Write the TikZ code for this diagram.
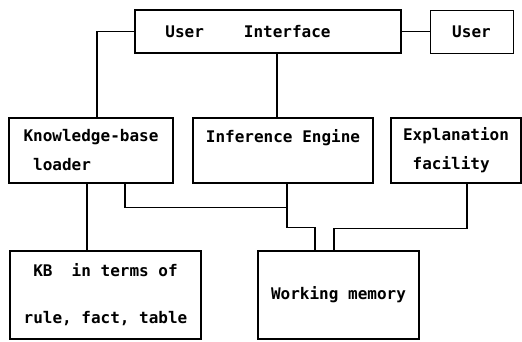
\documentclass[tikz,border=0pt]{standalone}
\usepackage{fontspec}
\setmonofont{DejaVu Sans Mono}
\usepackage{tikz}
\usetikzlibrary{positioning}

\begin{document}
\begin{tikzpicture}[x=1pt,y=-1pt,
		box/.style={draw,line width=1.6pt,align=center,inner sep=0pt,
			font=\ttfamily\bfseries\fontsize{16}{29}\selectfont},
		link/.style={line width=1.2pt}]
		\useasboundingbox (0,0) rectangle (522,342);
		
		% TOP: interface and user
		\node[box,minimum width=266,minimum height=43] (UI) at (268,31.5)
			{User\hspace{2.5em}Interface\hspace*{2.5em}};
		\node[box,line width=0.8pt,minimum width=83,minimum height=43] (user) at (471.5,31.5) {User};
		
		% MIDDLE: loader, engine, explanation
		\node[box,align=left,minimum width=164,minimum height=65] (KBL) at (91,150.5)
			{Knowledge-base\\\ loader};
		\node[box,align=left,minimum width=180,minimum height=65] (IE) at (283,150.5)
			{Inference Engine\\\mbox{}};
		\node[box,align=left,minimum width=130,minimum height=65] (EF) at (456,150.5)
			{Explanation\\\ facility};
		
		% BOTTOM: knowledge base and memory
		\node[box,minimum width=191,minimum height=88] (KB) at (105.5,295)
			{KB\hspace{1.2em}in terms of\\[18pt]rule, fact, table};
		\node[box,minimum width=161,minimum height=88] (WM) at (338.5,295) {Working memory};
		
		% connections
		\draw[link,line width=0.8pt] (UI.east) -- (user.west);
		\draw[link] (UI.west) -| ([xshift=6pt]KBL.north);
		\draw[link] ([xshift=-6pt]IE.north) |- (UI.south);
		\draw[link] ([xshift=-4pt]KBL.south) coordinate (k1) -- (k1 |- KB.north);
		\draw[link] ([xshift=4pt]IE.south) coordinate (i1) -- ++(0,44) -| ([xshift=-23.5pt]WM.north);
		\draw[link] ([xshift=34pt]KBL.south) -- ++(0,24) -| (i1);
		\draw[link] ([xshift=11pt]EF.south) -- ++(0,45) -| ([xshift=-4.5pt]WM.north);
	\end{tikzpicture}
\end{document}
